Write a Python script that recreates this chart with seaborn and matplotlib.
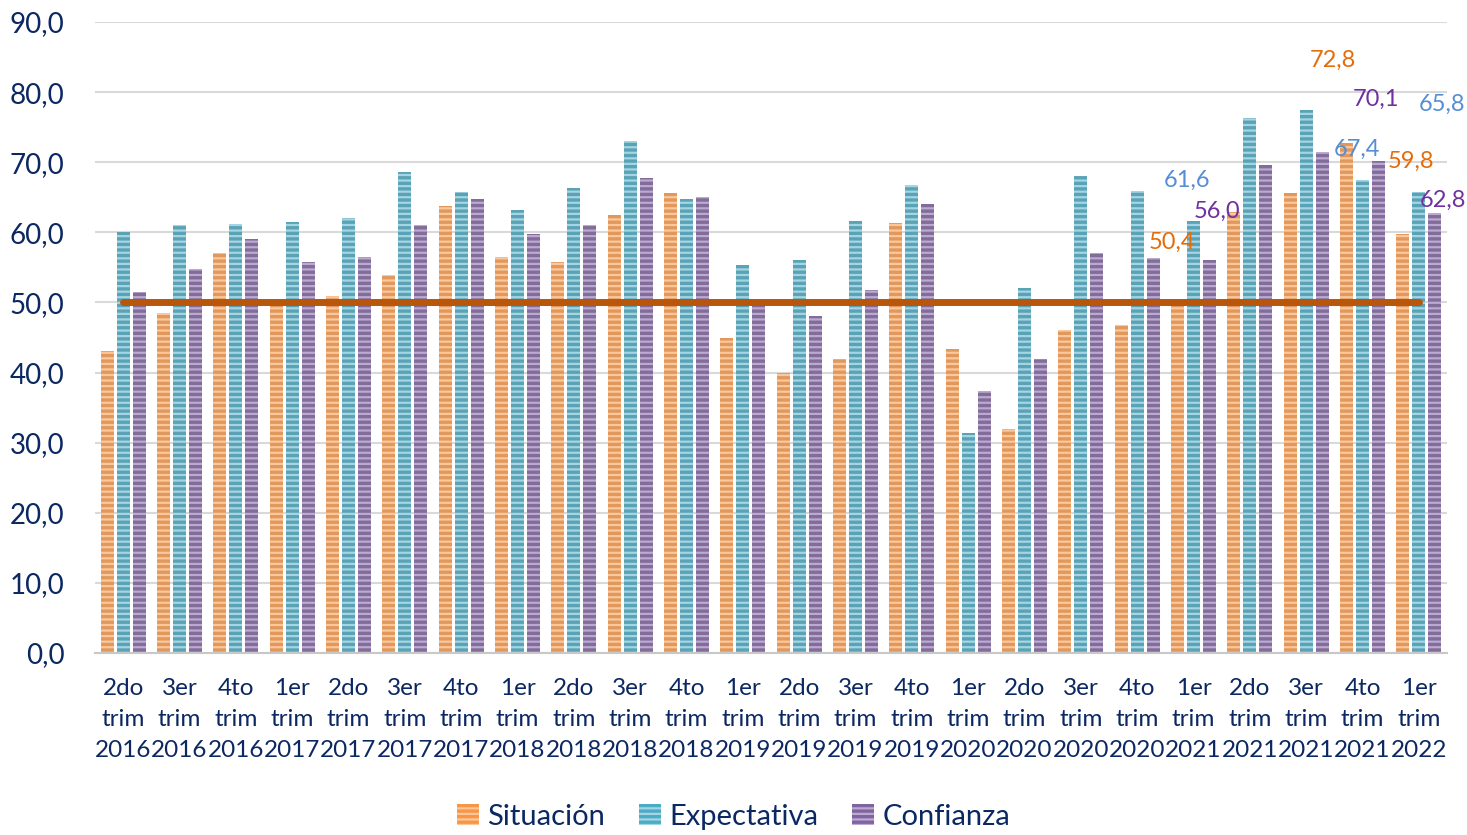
import pandas as pd
import matplotlib.pyplot as plt
import seaborn as sns
from matplotlib.patches import Patch

# Data
trimestres = ["2do", "3er", "4to", "1er", "2do", "3er", "4to", "1er", "2do", "3er", "4to", "1er",
              "2do", "3er", "4to", "1er", "2do", "3er", "4to", "1er", "2do", "3er", "4to", "1er"]
anios = ["2016", "2016", "2016", "2017", "2017", "2017", "2017", "2018", "2018", "2018", "2018", "2019",
         "2019", "2019", "2019", "2020", "2020", "2020", "2020", "2021", "2021", "2021", "2021", "2022"]
categorias = [f"{t}\ntrim\n{a}" for t, a in zip(trimestres, anios)]

situacion = [43.0, 48.5, 57.1, 49.6, 50.9, 53.9, 63.8, 56.5, 55.8, 62.5, 65.6, 44.9,
             40.0, 41.9, 61.3, 43.3, 31.9, 46.1, 46.8, 50.4, 62.9, 65.6, 72.8, 59.8]
expectativa = [60.0, 61.0, 61.2, 61.4, 62.0, 68.6, 65.8, 63.2, 66.3, 73.0, 64.7, 55.3,
               56.0, 61.6, 66.7, 31.4, 52.0, 68.1, 65.9, 61.6, 76.3, 77.5, 67.4, 65.8]
confianza = [51.5, 54.7, 59.1, 55.7, 56.5, 61.1, 64.7, 59.8, 61.0, 67.8, 65.1, 49.7,
             48.0, 51.8, 64.0, 37.3, 41.9, 57.1, 56.3, 56.0, 69.6, 71.5, 70.1, 62.8]
umbral = [50.0] * len(categorias)

series = ["Situación", "Expectativa", "Confianza"]
colores = {"Situación": "#F79646", "Expectativa": "#4BACC6", "Confianza": "#8064A2"}
rayas = {"Situación": "#FCC79A", "Expectativa": "#A5D5E3", "Confianza": "#BBA9D0"}
color_etiqueta = {"Situación": "#E46C0A", "Expectativa": "#558ED5", "Confianza": "#7030A0"}
texto = "#0B2862"

# labels that carry a value in the original, with their offset (px) from the bar top
etiquetas = {
    ("Situación", 19): (-6, 57), ("Expectativa", 19): (-6, 41), ("Confianza", 19): (7, 49),
    ("Situación", 22): (-14, 82), ("Expectativa", 22): (-6, 31), ("Confianza", 22): (-3, 62),
    ("Situación", 23): (8, 72), ("Expectativa", 23): (23, 87), ("Confianza", 23): (8, 12),
}

df = pd.DataFrame({
    "categoria": categorias * 3,
    "serie": [s for s in series for _ in categorias],
    "valor": situacion + expectativa + confianza,
})

sns.set_theme(style="white")
plt.rcParams['font.family'] = ['Lato', 'DejaVu Sans']
plt.rcParams['hatch.linewidth'] = 1.6

fig = plt.figure(figsize=(14.67, 8.35), dpi=100)
ax = fig.add_axes([0.0648, 0.218, 0.9216, 0.7557])

sns.barplot(data=df, x="categoria", y="valor", hue="serie", hue_order=series,
            palette=colores, width=0.85, gap=0.18, legend=False, ax=ax)

for cont, s in zip(ax.containers, series):
    for bar in cont:
        bar.set_hatch("---")
        bar.set_edgecolor(rayas[s])
        bar.set_linewidth(0)

ax.plot(range(len(categorias)), umbral, color="#B8560B", linewidth=5,
        solid_capstyle="round", zorder=5)

for cont, s in zip(ax.containers, series):
    for i, bar in enumerate(cont):
        if (s, i) in etiquetas:
            dx, dy = etiquetas[(s, i)]
            ax.annotate(f"{bar.get_height():.1f}".replace(".", ","),
                        xy=(bar.get_x() + bar.get_width() / 2, bar.get_height()),
                        xytext=(dx * 0.72, dy * 0.72), textcoords="offset points",
                        ha="center", va="center", fontsize=17,
                        color=color_etiqueta[s], zorder=6)

ax.set_xlim(-0.5, len(categorias) - 0.5)
ax.set_ylim(0, 90)
ax.set_yticks(range(0, 91, 10))
ax.set_yticklabels([f"{v:.1f}".replace(".", ",") for v in range(0, 91, 10)])
ax.yaxis.grid(True, color="#D9D9D9", linewidth=1.5)
ax.set_axisbelow(True)
for side in ["top", "right", "left"]:
    ax.spines[side].set_visible(False)
ax.spines["bottom"].set_color("#C8C8C8")
ax.spines["bottom"].set_linewidth(1.5)
ax.set_xlabel("")
ax.set_ylabel("")
ax.tick_params(axis="y", labelsize=20, colors=texto, length=0, pad=22)
ax.tick_params(axis="x", labelsize=17.5, colors=texto, length=0, pad=18)
for lbl in ax.get_xticklabels():
    lbl.set_linespacing(1.6)

handles = [Patch(facecolor=colores[s], edgecolor=rayas[s], hatch="---", linewidth=0, label=s)
           for s in series]
fig.legend(handles=handles, loc="lower center", bbox_to_anchor=(0.5, -0.025), ncol=3,
           frameon=False, fontsize=21, handlelength=0.75, handleheight=0.75,
           handletextpad=0.3, columnspacing=1.15, labelcolor=texto)

fig.savefig("out.png", dpi=100)
